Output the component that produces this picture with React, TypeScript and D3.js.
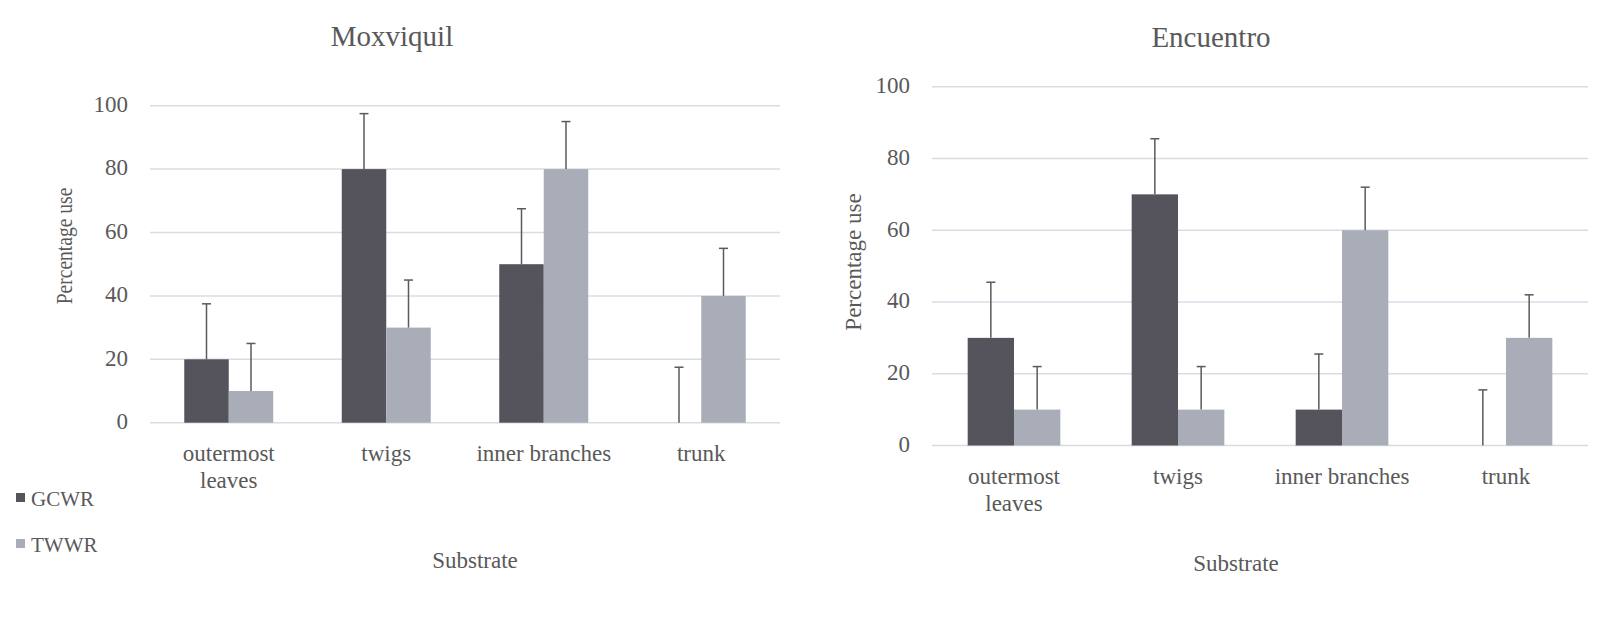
import React from "react";
import * as d3 from "d3";

// categories and series
const categories = ["outermost\nleaves", "twigs", "inner branches", "trunk"];
const seriesNames = ["GCWR", "TWWR"];
const yTicks = [0, 20, 40, 60, 80, 100];

// Moxviquil
const moxGCWR = [20, 80, 50, 0];
const moxGCWRErr = [17.5, 17.5, 17.5, 17.5];
const moxTWWR = [10, 30, 80, 40];
const moxTWWRErr = [15, 15, 15, 15];

// Encuentro
const encGCWR = [30, 70, 10, 0];
const encGCWRErr = [15.5, 15.5, 15.5, 15.5];
const encTWWR = [10, 10, 60, 30];
const encTWWRErr = [12, 12, 12, 12];

const COLORS = ["#55535c", "#a9adb8"];
const TEXT = "#595959";
const GRID = "#d9dce4";
const ERR = "#5a5a5a";
const FONT = "'Liberation Serif', 'Times New Roman', serif";

type PanelProps = {
    title: string;
    values: number[][];
    errors: number[][];
    x0: number;
    x1: number;
    yBottom: number;
    yTop: number;
    titleX: number;
    titleY: number;
    yLabelX: number;
    yLabelY: number;
    yLabelSquash: number;
    xTitleX: number;
    xTitleY: number;
};

function Panel(p: PanelProps) {
    const { title, values, errors, x0, x1, yBottom, yTop } = p;
    const xScale = d3.scaleBand<string>().domain(categories).range([x0, x1]).paddingInner(0.435).paddingOuter(0.2175);
    const xSeries = d3.scaleBand<string>().domain(seriesNames).range([0, xScale.bandwidth()]).padding(0);
    const yScale = d3.scaleLinear().domain([0, 100]).range([yBottom, yTop]);
    const capHalf = 4.5;

    return (
        <g fontFamily={FONT} fill={TEXT}>
            <text x={p.titleX} y={p.titleY} textAnchor="middle" fontSize={29}>
                {title}
            </text>

            {/* gridlines + y ticks */}
            {yTicks.map((t) => (
                <g key={t}>
                    <line x1={x0} x2={x1} y1={yScale(t)} y2={yScale(t)} stroke={GRID} strokeWidth={1.5} />
                    <text x={x0 - 22} y={yScale(t) + 1} textAnchor="end" dominantBaseline="middle" fontSize={23}>
                        {t}
                    </text>
                </g>
            ))}

            {/* bars */}
            {categories.map((c, i) =>
                seriesNames.map((s, j) => {
                    const v = values[j][i];
                    const bx = (xScale(c) ?? 0) + (xSeries(s) ?? 0);
                    const bw = xSeries.bandwidth();
                    return v > 0 ? (
                        <rect key={c + s} x={bx} y={yScale(v)} width={bw} height={yScale(0) - yScale(v)} fill={COLORS[j]} />
                    ) : null;
                })
            )}

            {/* error bars (plus only) */}
            {categories.map((c, i) =>
                seriesNames.map((s, j) => {
                    const v = values[j][i];
                    const cx = (xScale(c) ?? 0) + (xSeries(s) ?? 0) + xSeries.bandwidth() / 2;
                    const top = yScale(v + errors[j][i]);
                    return (
                        <g key={"e" + c + s} stroke={ERR} strokeWidth={1.5}>
                            <line x1={cx} x2={cx} y1={yScale(v)} y2={top} />
                            <line x1={cx - capHalf} x2={cx + capHalf} y1={top} y2={top} />
                        </g>
                    );
                })
            )}

            {/* x labels */}
            {categories.map((c) => {
                const cx = (xScale(c) ?? 0) + xScale.bandwidth() / 2;
                return (
                    <text key={c} x={cx} y={yBottom + 38} textAnchor="middle" fontSize={23}>
                        {c.split("\n").map((line, k) => (
                            <tspan key={k} x={cx} dy={k === 0 ? 0 : 27}>
                                {line}
                            </tspan>
                        ))}
                    </text>
                );
            })}

            <text
                transform={`translate(${p.yLabelX},${p.yLabelY}) rotate(-90) scale(${p.yLabelSquash},1)`}
                textAnchor="middle"
                fontSize={23}
            >
                Percentage use
            </text>
            <text x={p.xTitleX} y={p.xTitleY} textAnchor="middle" fontSize={23}>
                Substrate
            </text>
        </g>
    );
}

export default function App() {
    return (
        <svg
            width={1600}
            height={619}
            style={{ position: "absolute", left: 0, top: 0, background: "#fff" }}
        >
            <Panel
                title="Moxviquil"
                values={[moxGCWR, moxTWWR]}
                errors={[moxGCWRErr, moxTWWRErr]}
                x0={150}
                x1={780}
                yBottom={422.7}
                yTop={105.7}
                titleX={392}
                titleY={46}
                yLabelX={72}
                yLabelY={246}
                yLabelSquash={0.85}
                xTitleX={475}
                xTitleY={568}
            />
            <Panel
                title="Encuentro"
                values={[encGCWR, encTWWR]}
                errors={[encGCWRErr, encTWWRErr]}
                x0={932}
                x1={1588}
                yBottom={445.5}
                yTop={86.7}
                titleX={1211}
                titleY={47}
                yLabelX={861}
                yLabelY={262}
                yLabelSquash={1}
                xTitleX={1236}
                xTitleY={571}
            />

            {/* legend */}
            <g fontFamily={FONT} fill={TEXT} fontSize={21}>
                {seriesNames.map((s, j) => (
                    <g key={s}>
                        <rect x={16} y={493 + j * 46} width={9} height={9} fill={COLORS[j]} />
                        <text x={31} y={505.5 + j * 46}>
                            {s}
                        </text>
                    </g>
                ))}
            </g>
        </svg>
    );
}
